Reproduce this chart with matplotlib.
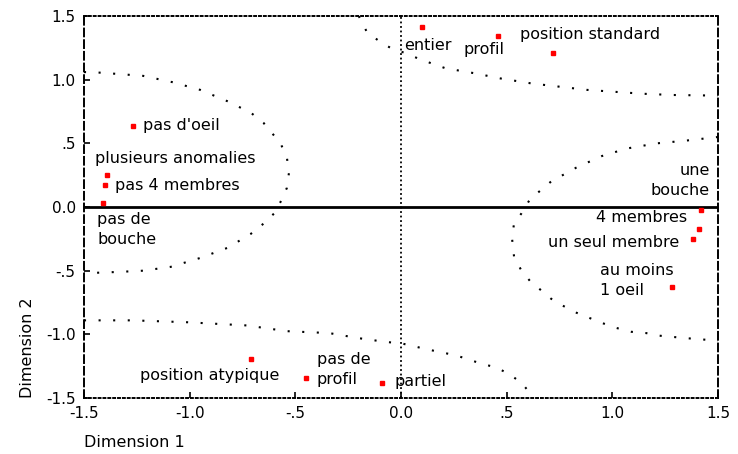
import matplotlib
matplotlib.use('Agg')
import matplotlib.pyplot as plt
import numpy as np

# category points (dimension 1, dimension 2)
labels = ["pas d'oeil", 'plusieurs anomalies', 'pas 4 membres', 'pas de\nbouche',
          'entier', 'profil', 'position standard',
          'une\nbouche', '4 membres', 'un seul membre', 'au moins\n1 oeil',
          'position atypique', 'pas de\nprofil', 'partiel']
dim1 = [-1.27, -1.39, -1.40, -1.41,
        0.10, 0.46, 0.72,
        1.42, 1.41, 1.38, 1.28,
        -0.71, -0.45, -0.09]
dim2 = [0.64, 0.25, 0.17, 0.03,
        1.41, 1.34, 1.21,
        -0.02, -0.17, -0.25, -0.63,
        -1.19, -1.34, -1.38]

# dotted contour curves
left_x = [-1.5, -1.42, -1.22, -1.08, -0.95, -0.82, -0.71, -0.65, -0.57, -0.54, -0.53,
          -0.54, -0.57, -0.60, -0.65, -0.71, -0.82, -0.95, -1.09, -1.22, -1.34, -1.5]
left_y = [1.06, 1.055, 1.03, 0.98, 0.92, 0.83, 0.74, 0.66, 0.50, 0.39, 0.27,
          0.15, 0.04, -0.05, -0.13, -0.21, -0.32, -0.40, -0.47, -0.50, -0.51, -0.52]
top_x = [-0.20, -0.16, -0.10, -0.04, 0.02, 0.09, 0.21, 0.35, 0.47, 0.62, 0.75, 0.88,
         1.01, 1.14, 1.28, 1.5]
top_y = [1.5, 1.37, 1.30, 1.24, 1.21, 1.16, 1.09, 1.05, 1.01, 0.97, 0.945, 0.92,
         0.905, 0.89, 0.88, 0.875]
right_x = [1.5, 1.34, 1.21, 1.07, 0.95, 0.83, 0.71, 0.61, 0.57, 0.535, 0.525, 0.535,
           0.57, 0.61, 0.66, 0.71, 0.76, 0.83, 0.89, 0.95, 1.02, 1.09, 1.16, 1.22,
           1.35, 1.5]
right_y = [0.55, 0.52, 0.50, 0.46, 0.40, 0.31, 0.20, 0.06, -0.05, -0.13, -0.24, -0.39,
           -0.50, -0.58, -0.65, -0.72, -0.77, -0.83, -0.87, -0.91, -0.95, -0.98, -0.99,
           -1.01, -1.03, -1.05]
bottom_x = [-1.5, -1.27, -1.01, -0.73, -0.54, -0.34, -0.20, -0.07, 0.0, 0.13, 0.26,
            0.38, 0.45, 0.51, 0.57, 0.61, 0.62]
bottom_y = [-0.89, -0.89, -0.905, -0.93, -0.975, -0.99, -1.03, -1.06, -1.07, -1.12,
            -1.165, -1.23, -1.26, -1.31, -1.38, -1.46, -1.5]

ticks = [-1.5, -1.0, -0.5, 0.0, 0.5, 1.0, 1.5]
xtick_labels = ['-1.5', '-1.0', '-.5', '0.0', '.5', '1.0', '1.5']
ytick_labels = ['-1.5', '-1.0', '-.5', '0.0', '.5', '1.0', '1.5']

# label placement (offset in pixels, alignment)
offsets = [(10, 0, 'left'), (-12, 17, 'left'), (10, 0, 'left'), (-6, -26, 'left'),
           (-18, -18, 'left'), (-35, -13, 'left'), (-33, 18, 'left'),
           (9, 29, 'right'), (-12, 11, 'right'), (-13, -4, 'right'), (-72, 7, 'left'),
           (28, -17, 'right'), (11, 8, 'left'), (13, 1, 'left')]

plt.rcParams['font.family'] = ['DejaVu Sans']
fig = plt.figure(figsize=(7.38, 4.54), dpi=100)
ax = fig.add_axes([0.1138, 0.1233, 0.8591, 0.8414])

for cx, cy in [(left_x, left_y), (top_x, top_y), (right_x, right_y), (bottom_x, bottom_y)]:
	ax.plot(cx, cy, color='black', lw=1.5, linestyle=(0, (1, 6)), clip_on=True)

ax.axhline(0, color='black', lw=2)
ax.axvline(0, color='black', lw=1.3, linestyle=(0, (1, 1.5)))

ax.plot(dim1, dim2, linestyle='none', marker='s', ms=3.5, color='red', mec='red')

for lab, x, y, (dx, dy, ha) in zip(labels, dim1, dim2, offsets):
	ax.annotate(lab, (x, y), xytext=(dx, dy), textcoords='offset pixels',
	            ha=ha, va='center', fontsize=11.5, linespacing=1.4, color='black')

ax.set_xlim(-1.5, 1.5)
ax.set_ylim(-1.5, 1.5)
ax.set_xticks(ticks)
ax.set_xticklabels(xtick_labels)
ax.set_yticks(ticks)
ax.set_yticklabels(ytick_labels)
ax.tick_params(direction='in', length=4, width=1.2, labelsize=11, pad=6)

ax.spines['left'].set_linestyle((0, (4, 2)))
ax.spines['right'].set_linestyle((0, (4, 2)))
ax.spines['top'].set_linestyle((0, (1, 1.5)))
ax.spines['bottom'].set_linestyle((0, (1, 1.5)))
for s in ax.spines.values():
	s.set_linewidth(1.4)

ax.set_xlabel('Dimension 1', loc='left', fontsize=11.5, labelpad=10)
ax.set_ylabel('Dimension 2', loc='bottom', fontsize=11.5, labelpad=8)

plt.savefig('out.png', dpi=100)
